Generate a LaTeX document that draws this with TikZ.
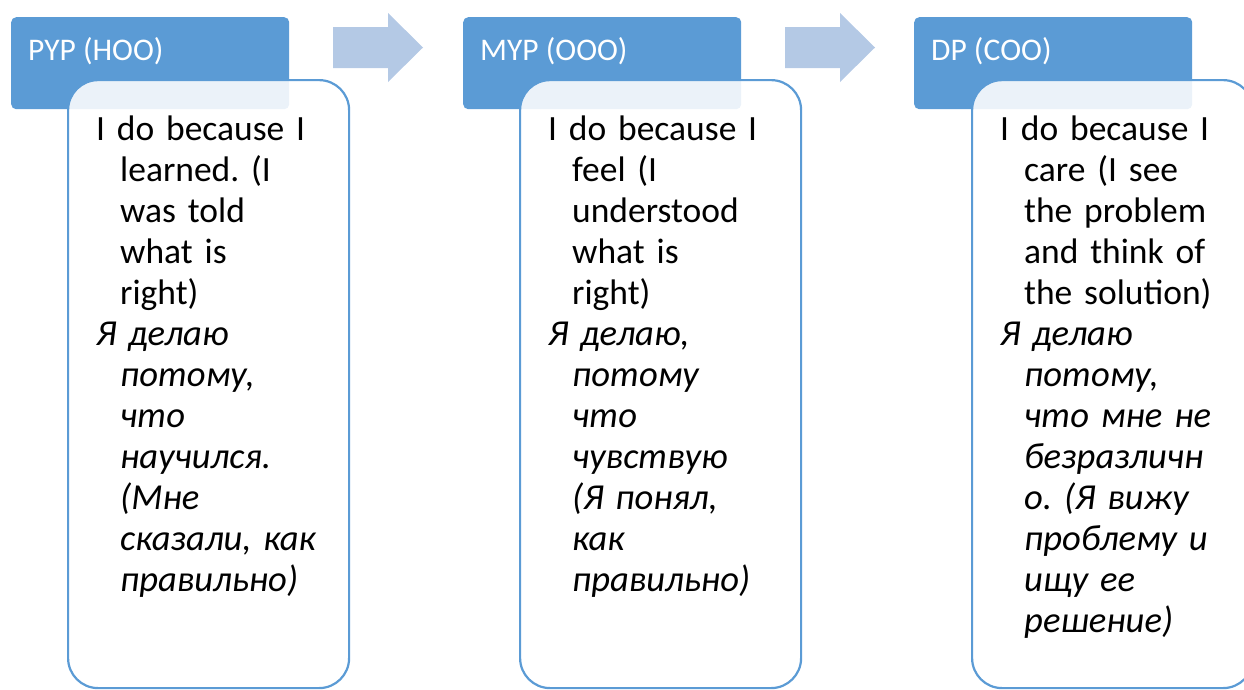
\documentclass[tikz,border=0pt]{standalone}
\usepackage{fontspec}
\setmainfont{Carlito}
\definecolor{hdr}{RGB}{91,155,213}
\definecolor{arr}{RGB}{180,201,229}
\tikzset{
  hdrbox/.style={fill=hdr, rounded corners=5pt, inner sep=0pt, anchor=north west, minimum width=278pt, minimum height=92pt},
  hdrtext/.style={text=white, font=\fontsize{31.5}{38}\selectfont, anchor=base west, inner sep=0pt},
  bodybox/.style={draw=hdr, line width=2.2pt, fill=white, fill opacity=0.88, rounded corners=30pt, inner sep=0pt, anchor=north west, minimum width=281pt, minimum height=608pt},
  bodytext/.style={font=\fontsize{35.5}{41}\selectfont\frenchspacing, text width=260pt, align=left, anchor=base west, inner sep=0pt},
  flowarrow/.style={fill=arr}
}
\newcommand{\ind}{\hspace*{24pt}}
\newcommand{\ru}{\fontsize{36.6}{41}\selectfont\itshape}
\begin{document}
\begin{tikzpicture}[x=1pt,y=-1pt]
\useasboundingbox (0,0) rectangle (1244,689);
% headers
\node[hdrbox] (h1) at (11,17) {};
\node[hdrbox] (h2) at (463,17) {};
\node[hdrbox] (h3) at (914,17) {};
% arrows
\fill[flowarrow] (333,27) -- (388,27) -- (388,13) -- (423,47.5) -- (388,82) -- (388,68) -- (333,68) -- cycle;
\fill[flowarrow] (785,27) -- (840,27) -- (840,13) -- (875,47.5) -- (840,82) -- (840,68) -- (785,68) -- cycle;
% bodies
\node[bodybox] (b1) at (67,79) {};
\node[bodybox] (b2) at (519,79) {};
\node[bodybox] (b3) at (971,79) {};
% header labels
\node[hdrtext] (l1) at (28,60) {PYP (НОО)};
\node[hdrtext] (l2) at (480,60) {MYP (ООО)};
\node[hdrtext] (l3) at (931,60) {DP (СОО)};
% body texts
\node[bodytext] (t1) at (96,140) {I do because I\\\ind learned. (I\\\ind was told\\\ind what is\\\ind right)\\
\ru Я делаю\\\ind потому,\\\ind что\\\ind научился.\\\ind (Мне\\\ind сказали, как\\\ind правильно)};
\node[bodytext] (t2) at (548,140) {I do because I\\\ind feel (I\\\ind understood\\\ind what is\\\ind right)\\
\ru Я делаю,\\\ind потому\\\ind что\\\ind чувствую\\\ind (Я понял,\\\ind как\\\ind правильно)};
\node[bodytext] (t3) at (1000,140) {I do because I\\\ind care (I see\\\ind the problem\\\ind and think of\\\ind the solution)\\
\ru Я делаю\\\ind потому,\\\ind что мне не\\\ind безразличн\\\ind о. (Я вижу\\\ind проблему и\\\ind ищу ее\\\ind решение)};
\end{tikzpicture}
\end{document}
